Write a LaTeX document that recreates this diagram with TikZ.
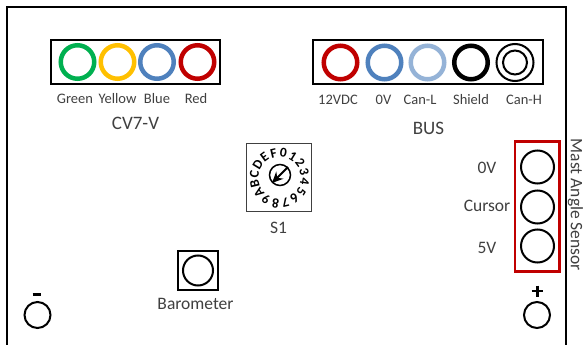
\documentclass[tikz,border=0pt]{standalone}
\usepackage{fontspec}
\setmainfont{Carlito}
\usetikzlibrary{arrows.meta}
\definecolor{pingreen}{RGB}{0,176,80}
\definecolor{pinyellow}{RGB}{255,192,0}
\definecolor{pinblue}{RGB}{79,129,189}
\definecolor{pinlight}{RGB}{149,179,215}
\definecolor{pinred}{RGB}{192,0,0}
\definecolor{labelgray}{RGB}{64,64,64}
\tikzset{
    pin/.style={circle, draw, line width=4.5pt, minimum size=33.5pt, inner sep=0pt},
    hole/.style={circle, draw, line width=2pt, inner sep=0pt},
    small/.style={labelgray, font=\fontsize{14.5}{14.5}\selectfont},
    big/.style={labelgray, font=\fontsize{19}{19}\selectfont},
    side/.style={labelgray, font=\fontsize{17.5}{17.5}\selectfont},
    code/.style={black, font=\bfseries\fontsize{13.5}{13.5}\selectfont, inner sep=0pt}
}
\begin{document}
\begin{tikzpicture}[x=1pt, y=-1pt]
    \useasboundingbox (0,0) rectangle (584,345);
    \fill[white] (0,0) rectangle (584,345);

    % Board
    \draw[line width=2pt] (6.5,345) -- (6.5,7.5) -- (565.5,7.5) -- (565.5,345);

    % CV7-V
    \draw[line width=2pt] (50.5,40.5) rectangle (220,84.5);
    \foreach \x/\col/\name in {77.5/pingreen/green, 117.5/pinyellow/yellow, 157/pinblue/blue, 197.5/pinred/red} {
        \node[pin, draw=\col] (cv\name) at (\x,62) {};
    }
    \foreach \x/\label in {75/Green, 117.5/Yellow, 157/Blue, 196/Red} {
        \node[small] (lab\label) at (\x,99) {\label};
    }
    \node[big] (cvlabel) at (135.5,123) {CV7-V};

    % BUS
    \draw[line width=2pt] (313,40.5) rectangle (543,84.5);
    \foreach \x/\col/\name in {340.5/pinred/power, 384.5/pinblue/ground, 427.5/pinlight/canl, 471/black/shield} {
        \node[pin, draw=\col] (bus\name) at (\x,62.5) {};
    }
    \node[hole, minimum size=37pt] (buscanh) at (515,62.5) {};
    \node[hole, minimum size=24pt] (buscanhin) at (515,62.5) {};
    \foreach \x/\label in {338/12VDC, 383.5/0V, 420/Can-L, 471/Shield, 524/Can-H} {
        \node[small] (lab\label) at (\x,100) {\label};
    }
    \node[big] (buslabel) at (428.5,128) {BUS};

    % S1
    \draw[line width=1.5pt, black!75] (246.5,143.5) rectangle (311.5,211.5);
    \node[circle, draw, line width=1.5pt, minimum size=21pt, inner sep=0pt] (knob) at (280,175) {};
    \draw[line width=2pt, -{Stealth[length=11pt,width=10pt]}] (knob.45) -- (272,183);
    \foreach \a/\c in {81/0, 58.5/1, 36/2, 13.5/3, -9/4, -31.5/5, -54/6, -76.5/7, -99/8, -121.5/9, -144/A, -166.5/B, 171/C, 148.5/D, 126/E, 103.5/F} {
        \node[code, rotate=\a-90] (code\c) at ({279.5+25.5*cos(\a)},{178-25.5*sin(\a)}) {\c};
    }
    \node[side] (s1label) at (278.5,228) {S1};

    % Barometer
    \draw[line width=2pt] (178,251) rectangle (218,290);
    \node[hole, minimum size=30pt] (baro) at (198,270.5) {};
    \node[side] (barolabel) at (195.5,304) {Barometer};

    % Mast Angle Sensor
    \draw[line width=2.5pt, pinred] (515,141.5) rectangle (559.5,271.5);
    \foreach \y/\name in {167/zero, 207/cursor, 246/five} {
        \node[hole, minimum size=33pt] (mast\name) at (537.5,\y) {};
    }
    \foreach \y/\label in {168/0V, 206/Cursor, 248/5V} {
        \node[side] (lab\label) at (487,\y) {\label};
    }
    \node[side, rotate=-90, inner sep=0pt] (mastlabel) at (575.5,205) {Mast Angle Sensor};

    % Power
    \node[hole, minimum size=26pt] (minus) at (37.5,315) {};
    \node[hole, minimum size=26pt] (plus) at (537,315) {};
    \draw[line width=3pt] (32.5,294.5) -- (41,294.5);
    \draw[line width=2.5pt] (531.5,291) -- (543,291) (537.3,285.5) -- (537.3,296.5);
\end{tikzpicture}
\end{document}
